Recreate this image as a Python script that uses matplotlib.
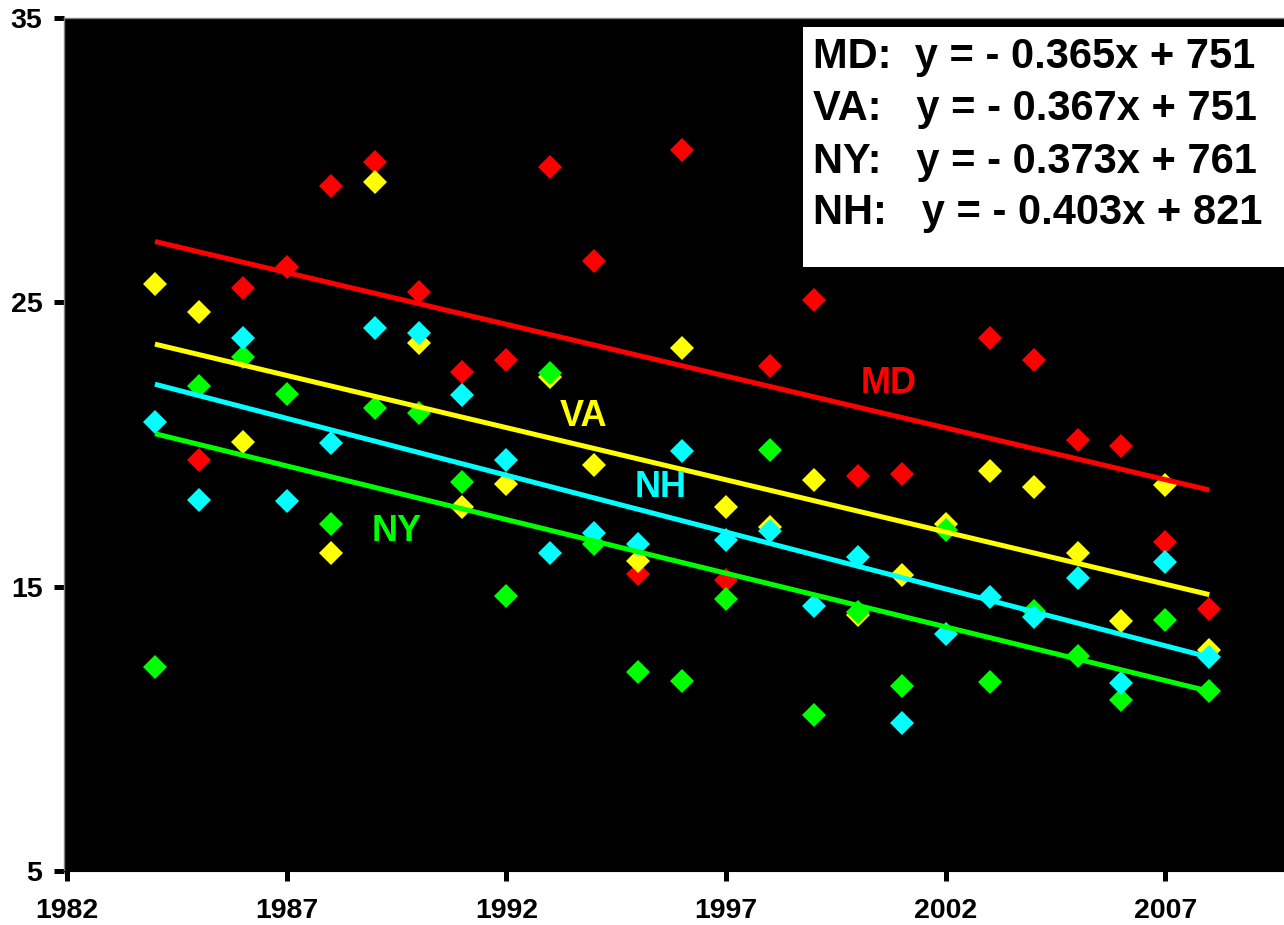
import matplotlib
matplotlib.use('Agg')
import matplotlib.pyplot as plt
import matplotlib.patches as mpatches
import numpy as np

plt.rcParams['font.family'] = ['Liberation Sans', 'DejaVu Sans']
plt.rcParams['font.weight'] = 'bold'

years = np.arange(1984, 2009)
nan = np.nan

md = [nan, 19.46, 25.51, 26.26, 29.09, 29.94, 25.37, 22.54, 22.96, 29.76, 26.47, 15.46, 30.36,
      15.25, 22.75, 25.09, 18.89, 18.96, nan, 23.74, 22.96, 20.17, 19.96, 16.56, 14.22]
va = [25.65, 24.66, 20.10, nan, 16.17, 29.23, 23.57, 17.80, 18.61, 22.36, 19.28, 15.92, 23.39,
      17.80, 17.09, 18.75, 14.00, 15.42, 17.20, 19.07, 18.50, 16.17, 13.80, 18.58, 12.77]
ny = [12.17, 22.04, 23.07, 21.76, 17.19, 21.27, 21.12, 18.68, 14.68, 22.50, 16.49, 11.99, 11.67,
      14.58, 19.81, 10.50, 14.12, 11.50, 17.00, 11.64, 14.15, 12.56, 11.00, 13.83, 11.32]
nh = [20.80, 18.04, 23.74, 18.00, 20.06, 24.10, 23.92, 21.73, 19.46, 16.20, 16.88, 16.49, 19.78,
      16.63, 16.95, 14.33, 16.03, 10.22, 13.34, 14.65, 13.94, 15.32, 11.60, 15.85, 12.52]

# trend line values at first and last year
trend_years = [1984, 2008]
md_trend = [27.14, 18.40]
va_trend = [23.53, 14.72]
ny_trend = [20.38, 11.32]
nh_trend = [22.12, 12.52]

equations = ['MD:  y = - 0.365x + 751',
             'VA:   y = - 0.367x + 751',
             'NY:   y = - 0.373x + 761',
             'NH:   y = - 0.403x + 821']

series = [('MD', md, md_trend, '#FF0000'),
          ('VA', va, va_trend, '#FFFF00'),
          ('NY', ny, ny_trend, '#00FF00'),
          ('NH', nh, nh_trend, '#00FFFF')]

# label positions (data coords)
label_pos = {'MD': (2000.7, 22.15), 'VA': (1993.75, 21.0), 'NY': (1989.5, 16.95), 'NH': (1995.5, 18.5)}

fig = plt.figure(figsize=(12.84, 9.25), dpi=100)
ax = fig.add_axes([64 / 1284, 1 - 871 / 925, 1 - 64 / 1284, 853 / 925])
ax.set_facecolor('black')

for name, vals, trend, col in series:
    ax.plot(years, vals, linestyle='none', marker='D', markersize=12.2,
            markeredgewidth=0, color=col, zorder=2)
for name, vals, trend, col in series:
    ax.plot(trend_years, trend, color=col, linewidth=3.6, solid_capstyle='butt', zorder=3)
    ax.text(label_pos[name][0], label_pos[name][1], name, color=col, fontsize=26,
            fontweight='bold', ha='center', va='center', zorder=4)

ax.set_xlim(1981.93, 2009.7)
ax.set_ylim(5, 35)
ax.set_xticks(np.arange(1982, 2008, 5))
ax.set_yticks([5, 15, 25, 35])
ax.tick_params(axis='both', direction='out', length=7, width=3.6, color='black', labelsize=20.5)
ax.tick_params(axis='x', pad=12.5)
ax.tick_params(axis='y', pad=8.5)

for s in ['left', 'top']:
    ax.spines[s].set_color('#808080')
    ax.spines[s].set_linewidth(1)
ax.spines['bottom'].set_color('black')
ax.spines['right'].set_visible(False)

# white equation box
box = mpatches.Rectangle((803 / 1284, 1 - 267 / 925), 0.5, 240 / 925,
                         transform=fig.transFigure, facecolor='white', edgecolor='none', zorder=5)
fig.patches.append(box)
baselines = [68, 120, 173, 224]
for eq, b in zip(equations, baselines):
    fig.text(813 / 1284, 1 - b / 925, eq, fontsize=30, fontweight='bold', color='black',
             ha='left', va='baseline', zorder=6)

fig.savefig('out.png', dpi=100)
